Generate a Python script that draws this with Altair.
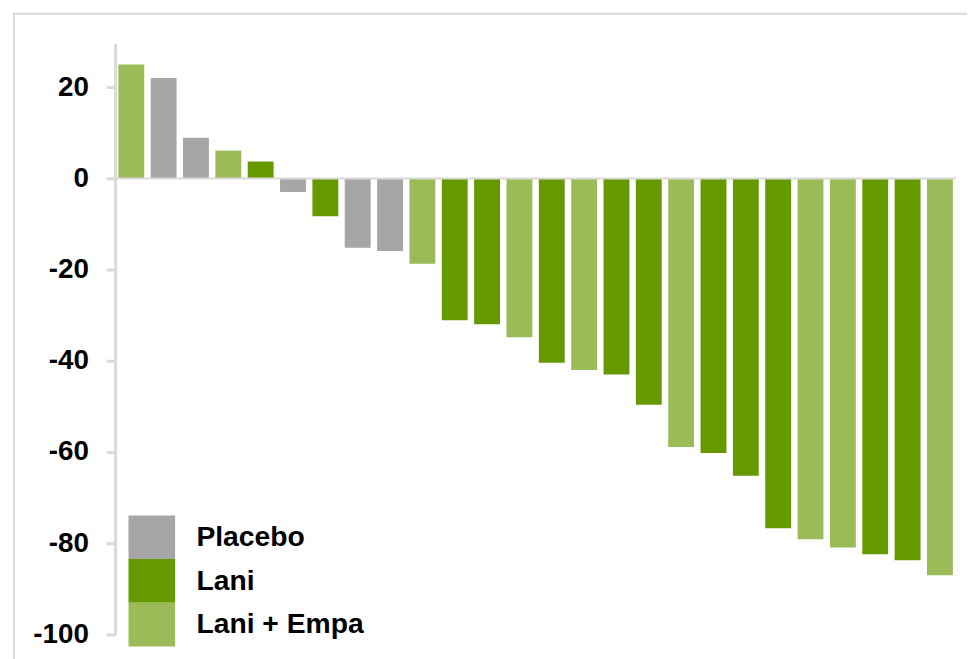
import altair as alt
import pandas as pd

# Data
groups = ["Lani + Empa", "Placebo", "Placebo", "Lani + Empa", "Lani", "Placebo", "Lani",
          "Placebo", "Placebo", "Lani + Empa", "Lani", "Lani", "Lani + Empa", "Lani",
          "Lani + Empa", "Lani", "Lani", "Lani + Empa", "Lani", "Lani", "Lani",
          "Lani + Empa", "Lani + Empa", "Lani", "Lani", "Lani + Empa"]
values = [25.0, 22.0, 8.9, 6.1, 3.7, -3.0, -8.3, -15.2, -15.9, -18.7, -31.1, -32.0, -34.8,
          -40.4, -42.0, -43.0, -49.6, -58.9, -60.2, -65.2, -76.7, -79.1, -80.9, -82.4,
          -83.7, -87.0]
legend_order = ["Placebo", "Lani", "Lani + Empa"]
legend_colors = ["#A6A6A6", "#669900", "#9BBB59"]
y_ticks = [-100, -80, -60, -40, -20, 0, 20]

df = pd.DataFrame({"patient": list(range(1, len(values) + 1)), "value": values, "group": groups})

FONT = "Liberation Sans"
FRAME = "#D9D9D9"

bars = alt.Chart(df).mark_bar().encode(
    x=alt.X("patient:O", axis=None,
            scale=alt.Scale(paddingInner=0.2, paddingOuter=0.1)),
    y=alt.Y("value:Q",
            scale=alt.Scale(domain=[-100, 29.6], nice=False, zero=False),
            axis=alt.Axis(values=y_ticks, title=None, grid=False,
                          labelExpr="toString(datum.value)",
                          domainColor=FRAME, domainWidth=3,
                          tickColor=FRAME, tickWidth=3, tickSize=9,
                          labelFont=FONT, labelFontWeight="bold", labelFontSize=28,
                          labelColor="#000000", labelPadding=18)),
    color=alt.Color("group:N",
                    scale=alt.Scale(domain=legend_order, range=legend_colors),
                    legend=alt.Legend(title=None, orient="none", legendX=15, legendY=476,
                                      symbolType="M-1.068,-1H1.068V1H-1.068Z",
                                      symbolSize=1936, symbolStrokeWidth=0,
                                      symbolOpacity=1,
                                      labelFont=FONT, labelFontWeight="bold",
                                      labelFontSize=28.5, labelColor="#000000",
                                      labelLimit=400,
                                      labelOffset=23, rowPadding=0, padding=0)),
)

zero_line = alt.Chart(pd.DataFrame({"y": [0]})).mark_rule(color=FRAME, strokeWidth=2).encode(
    y="y:Q"
)

frame_left = alt.Chart(pd.DataFrame({"a": [0]})).mark_rule(color=FRAME, strokeWidth=2).encode(
    x=alt.value(-102), y=alt.value(-30), y2=alt.value(700)
)
frame_top = alt.Chart(pd.DataFrame({"a": [0]})).mark_rule(color=FRAME, strokeWidth=2).encode(
    x=alt.value(-103), x2=alt.value(900), y=alt.value(-30)
)

chart = alt.layer(frame_left, frame_top, bars, zero_line).properties(
    width=848, height=596,
    autosize=alt.AutoSizeParams(type="none"),
    padding={"left": 108, "top": 33, "right": 11, "bottom": 22},
).configure_view(stroke=None)

chart.save("out.html", embed_options={"renderer": "svg", "actions": False})
